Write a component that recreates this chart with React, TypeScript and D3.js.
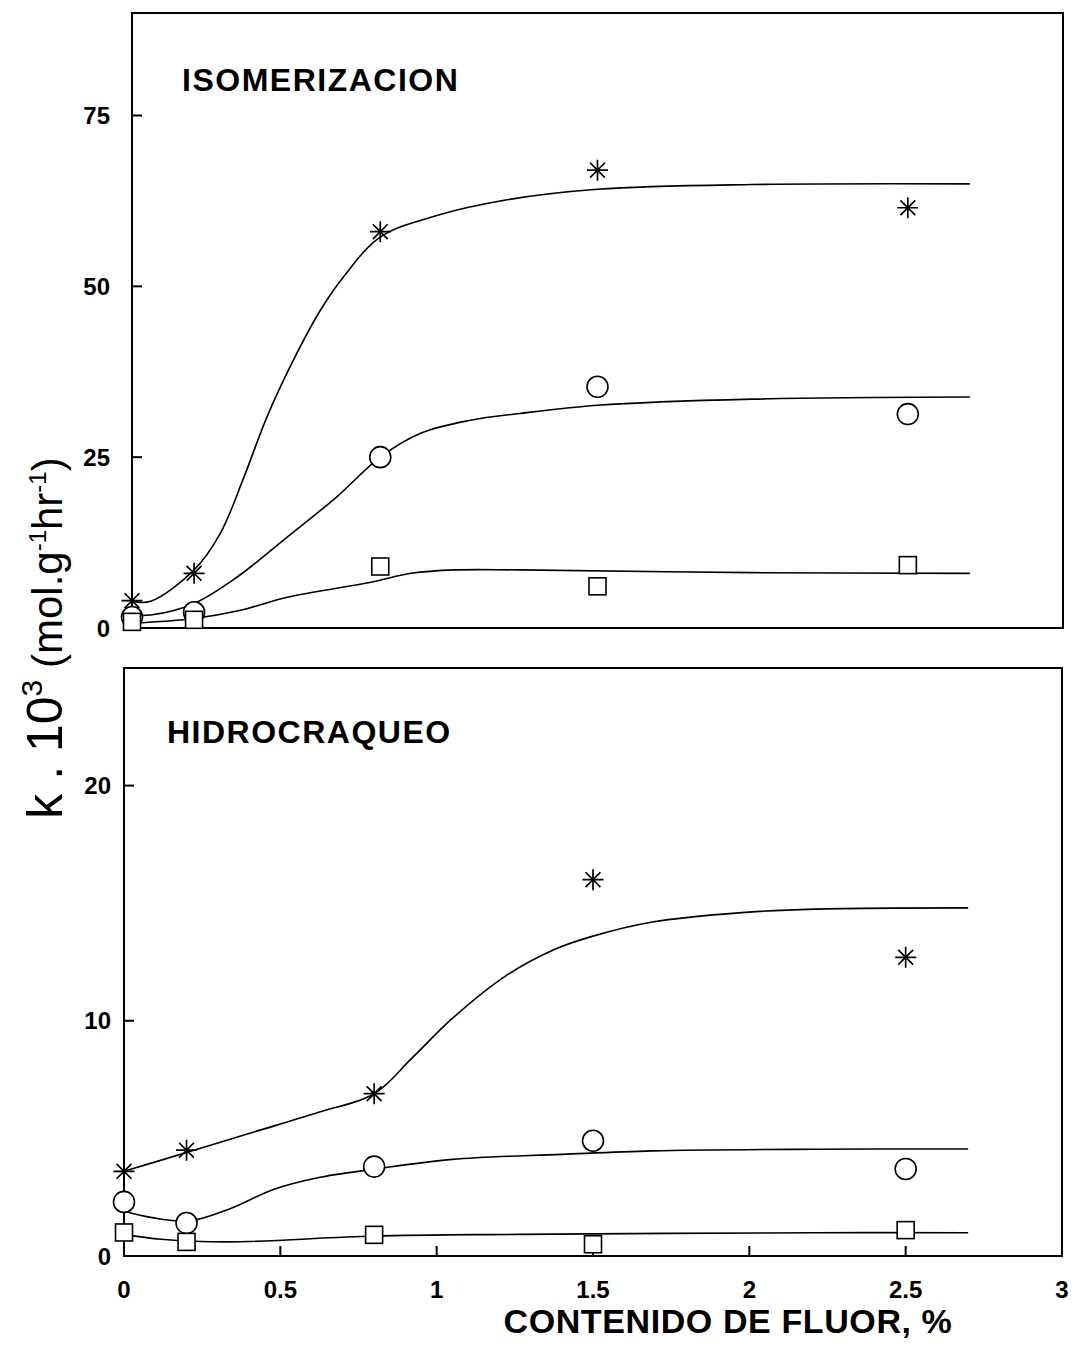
import React from 'react';
import * as d3 from 'd3';

// fluorine content (%) of the catalysts
const fluor = [0, 0.2, 0.8, 1.5, 2.5];

// ISOMERIZACION  k.10^3
const isoStar = [4, 8, 58, 67, 61.5];
const isoCircle = [1.6, 2.3, 25, 35.3, 31.3];
const isoSquare = [0.9, 1.2, 9, 6.1, 9.2];

// HIDROCRAQUEO  k.10^3
const hcStar = [3.6, 4.5, 6.9, 16, 12.7];
const hcCircle = [2.3, 1.4, 3.8, 4.9, 3.7];
const hcSquare = [1.0, 0.6, 0.9, 0.5, 1.1];

// fitted curves
const isoStarFitX = [0, 0.06, 0.2, 0.285, 0.36, 0.435, 0.52, 0.607, 0.68, 0.8, 0.985, 1.2, 1.5, 2.0, 2.7];
const isoStarFitY = [3.9, 3.9, 8.5, 13.9, 22, 30.9, 39.2, 46.5, 51.3, 57.2, 60.4, 62.6, 64.2, 64.9, 65];
const isoCircleFitX = [0, 0.06, 0.2, 0.34, 0.5, 0.66, 0.8, 0.93, 1.09, 1.25, 1.5, 2.0, 2.7];
const isoCircleFitY = [1.9, 1.9, 3.6, 7.5, 13.3, 19.2, 25, 28.5, 30.4, 31.4, 32.6, 33.5, 33.8];
const isoSquareFitX = [0, 0.2, 0.35, 0.5, 0.77, 0.9, 1.04, 1.25, 2.0, 2.7];
const isoSquareFitY = [0.7, 1.4, 2.6, 4.5, 6.7, 8.0, 8.5, 8.5, 8.1, 8.0];

const hcStarFitX = [0, 0.2, 0.41, 0.62, 0.8, 0.92, 1.05, 1.22, 1.38, 1.5, 1.69, 1.975, 2.21, 2.7];
const hcStarFitY = [3.6, 4.4, 5.25, 6.1, 6.9, 8.4, 10.1, 11.9, 13.05, 13.6, 14.2, 14.6, 14.75, 14.8];
const hcCircleFitX = [0, 0.09, 0.21, 0.335, 0.48, 0.62, 0.8, 1.05, 1.4, 1.69, 2.21, 2.7];
const hcCircleFitY = [1.9, 1.63, 1.49, 1.99, 2.84, 3.33, 3.69, 4.11, 4.32, 4.47, 4.54, 4.55];
const hcSquareFitX = [0, 0.12, 0.335, 0.8, 1.26, 2.21, 2.7];
const hcSquareFitY = [0.92, 0.71, 0.6, 0.85, 0.92, 0.99, 0.99];

const xTicks = [0, 0.5, 1, 1.5, 2, 2.5, 3];
const isoYTicks = [0, 25, 50, 75];
const hcYTicks = [0, 10, 20];

const FONT = '"Liberation Sans", Arial, Helvetica, sans-serif';

type Series = { kind: 'star' | 'circle' | 'square'; values: number[]; fitX: number[]; fitY: number[] };

const zip = (xs: number[], ys: number[]) => xs.map((x, i) => [x, ys[i]] as [number, number]);

function Marker({ kind, cx, cy }: { kind: string; cx: number; cy: number }) {
  if (kind === 'circle') {
    return <circle cx={cx} cy={cy} r={10.5} fill="white" stroke="black" strokeWidth={1.6} />;
  }
  if (kind === 'square') {
    return <rect x={cx - 8.5} y={cy - 8.5} width={17} height={17} fill="white" stroke="black" strokeWidth={1.6} />;
  }
  const r = 10.5;
  const d = r * Math.SQRT1_2;
  return (
    <path
      d={`M${cx - r},${cy}L${cx + r},${cy}M${cx},${cy - r}L${cx},${cy + r}M${cx - d},${cy - d}L${cx + d},${cy + d}M${cx - d},${cy + d}L${cx + d},${cy - d}`}
      stroke="black"
      strokeWidth={1.7}
      fill="none"
    />
  );
}

function Panel({
  x,
  y,
  title,
  titleX,
  titleY,
  yTicks,
  labelGap,
  series,
  showXTicks,
}: {
  x: d3.ScaleLinear<number, number>;
  y: d3.ScaleLinear<number, number>;
  title: string;
  titleX: number;
  titleY: number;
  yTicks: number[];
  labelGap: number;
  series: Series[];
  showXTicks: boolean;
}) {
  const [x0, x1] = x.range();
  const [y0, y1] = y.range();
  const line = d3
    .line<[number, number]>()
    .x((d) => x(d[0]))
    .y((d) => y(d[1]))
    .curve(d3.curveCatmullRom.alpha(0.5));

  return (
    <g>
      <rect x={x0} y={y1} width={x1 - x0} height={y0 - y1} fill="none" stroke="black" strokeWidth={2} />
      {yTicks.map((t) => (
        <g key={`y${t}`}>
          {t > 0 && <line x1={x0} x2={x0 + 10} y1={y(t)} y2={y(t)} stroke="black" strokeWidth={2} />}
          <text
            x={x0 - labelGap}
            y={y(t)}
            dy="0.36em"
            textAnchor="end"
            fontFamily={FONT}
            fontWeight="bold"
            fontSize={24}
          >
            {t}
          </text>
        </g>
      ))}
      {showXTicks &&
        xTicks.map((t) => (
          <g key={`x${t}`}>
            {t > 0 && t < 3 && <line x1={x(t)} x2={x(t)} y1={y0} y2={y0 - 10} stroke="black" strokeWidth={2} />}
            <text x={x(t)} y={y0 + 42} textAnchor="middle" fontFamily={FONT} fontWeight="bold" fontSize={24}>
              {t}
            </text>
          </g>
        ))}
      <text x={titleX} y={titleY} fontFamily={FONT} fontWeight="bold" fontSize={32} letterSpacing={1.5}>
        {title}
      </text>
      {series.map((s, i) => (
        <path key={`c${i}`} d={line(zip(s.fitX, s.fitY)) || ''} fill="none" stroke="black" strokeWidth={1.6} />
      ))}
      {series.map((s, i) =>
        s.values.map((v, j) => <Marker key={`m${i}-${j}`} kind={s.kind} cx={x(fluor[j])} cy={y(v)} />)
      )}
    </g>
  );
}

export default function App() {
  const width = 1074;
  const height = 1348;

  const xTop = d3.scaleLinear().domain([0, 3]).range([132, 1063]);
  const yTop = d3.scaleLinear().domain([0, 90]).range([628, 13]);
  const xBot = d3.scaleLinear().domain([0, 3]).range([124, 1062]);
  const yBot = d3.scaleLinear().domain([0, 25]).range([1256, 668]);

  const isoSeries: Series[] = [
    { kind: 'star', values: isoStar, fitX: isoStarFitX, fitY: isoStarFitY },
    { kind: 'circle', values: isoCircle, fitX: isoCircleFitX, fitY: isoCircleFitY },
    { kind: 'square', values: isoSquare, fitX: isoSquareFitX, fitY: isoSquareFitY },
  ];
  const hcSeries: Series[] = [
    { kind: 'star', values: hcStar, fitX: hcStarFitX, fitY: hcStarFitY },
    { kind: 'circle', values: hcCircle, fitX: hcCircleFitX, fitY: hcCircleFitY },
    { kind: 'square', values: hcSquare, fitX: hcSquareFitX, fitY: hcSquareFitY },
  ];

  return (
    <svg
      width={width}
      height={height}
      style={{ position: 'absolute', left: 0, top: 0, background: 'white' }}
    >
      <rect width={width} height={height} fill="white" />
      <Panel x={xTop} y={yTop} title="ISOMERIZACION" titleX={182} titleY={91} yTicks={isoYTicks} labelGap={22} series={isoSeries} showXTicks={false} />
      <Panel x={xBot} y={yBot} title="HIDROCRAQUEO" titleX={167} titleY={743} yTicks={hcYTicks} labelGap={13} series={hcSeries} showXTicks={true} />

      <text x={728} y={1333} textAnchor="middle" fontFamily={FONT} fontWeight="bold" fontSize={34} letterSpacing={0.6}>
        CONTENIDO DE FLUOR, %
      </text>

      <text transform="translate(62,638) rotate(-90)" textAnchor="middle" fontFamily={FONT} fill="black">
        <tspan fontSize={50}>k . 10</tspan>
        <tspan fontSize={30} dy={-20}>3</tspan>
        <tspan fontSize={42} dy={20}>{'  (mol.g'}</tspan>
        <tspan fontSize={24} dy={-16}>-1</tspan>
        <tspan fontSize={42} dy={16}>hr</tspan>
        <tspan fontSize={24} dy={-16}>-1</tspan>
        <tspan fontSize={42} dy={16}>)</tspan>
      </text>
    </svg>
  );
}
